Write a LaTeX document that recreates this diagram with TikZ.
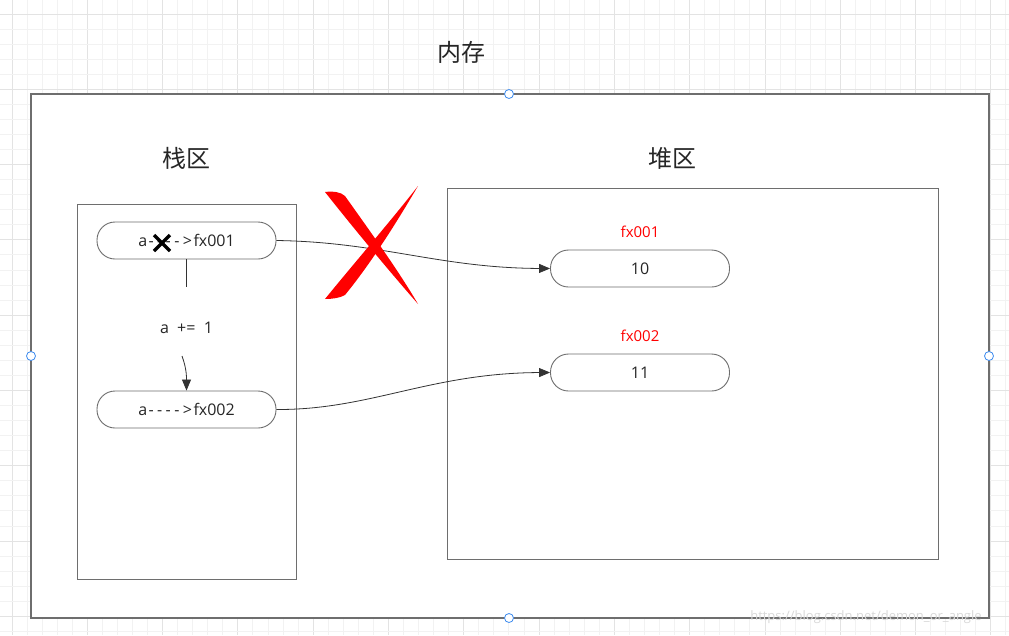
\documentclass[tikz,border=0pt]{standalone}
\usepackage{fontspec}
\setmainfont[Ligatures=TeXOff]{Open Sans}
\newfontfamily\cjk{Noto Sans CJK SC}
\usetikzlibrary{arrows.meta}
\definecolor{gridminor}{HTML}{F2F2F2}
\definecolor{gridmajor}{HTML}{E3E3E3}
\definecolor{edge}{HTML}{6E6E6E}
\definecolor{handle}{HTML}{3D8BEF}
\definecolor{xred}{HTML}{FF0000}
\newcommand{\dsh}{-\kern3.4pt}
\tikzset{
  pill/.style={draw=edge, line width=0.9pt, fill=white, rounded corners=18pt,
    minimum width=179pt, minimum height=37pt, inner sep=0pt, font=\fontsize{16}{18}\selectfont, text=black!85},
  zone/.style={draw=edge, line width=1pt, fill=white},
  title/.style={font=\cjk\fontsize{24}{28}\selectfont, text=black!85},
  addr/.style={font=\fontsize{15}{17}\selectfont, text=xred},
  link/.style={draw=black!80, line width=0.8pt, -{Triangle[length=11pt,width=9pt]}},
  handledot/.style={circle, draw=handle, fill=white, line width=0.8pt, minimum size=9pt, inner sep=0pt}
}
\begin{document}
\begin{tikzpicture}[x=1pt,y=-1pt]
\useasboundingbox (0,0) rectangle (1009,635);
\fill[white] (0,0) rectangle (1009,635);
% grid
\foreach \i in {0,...,66}{
  \pgfmathsetmacro{\gx}{12+\i*15.06}
  \pgfmathtruncatemacro{\m}{mod(\i,5)}
  \ifnum\m=0 \draw[gridmajor,line width=1pt] (\gx,0) -- (\gx,635);
  \else \draw[gridminor,line width=1pt] (\gx,0) -- (\gx,635); \fi
}
\foreach \j in {0,...,41}{
  \pgfmathsetmacro{\gy}{14+\j*15.06}
  \pgfmathtruncatemacro{\m}{mod(\j,5)}
  \ifnum\m=0 \draw[gridmajor,line width=1pt] (0,\gy) -- (1009,\gy);
  \else \draw[gridminor,line width=1pt] (0,\gy) -- (1009,\gy); \fi
}
% outer memory box
\node[title] (mem) at (461,52) {内存};
\draw[zone, line width=1.3pt] (31,94) rectangle (989,618);
\node[handledot] (hn) at (509,94) {};
\node[handledot] (hw) at (31,356) {};
\node[handledot] (he) at (989,356) {};
\node[handledot] (hs) at (509,618) {};
% stack
\node[title] (stk) at (186,158) {栈区};
\draw[zone] (77,204) rectangle (296,579);
% heap
\node[title] (hp) at (672,158) {堆区};
\draw[zone] (447,188) rectangle (938,559);
% stack nodes
\node[pill] (a1) at (186.5,240.5) {a\kern1.5pt\dsh\dsh\dsh\dsh>\kern1.5pt fx001};
\node[pill] (a2) at (186.5,409.5) {a\kern1.5pt\dsh\dsh\dsh\dsh>\kern1.5pt fx002};
\node[font=\fontsize{16}{18}\selectfont, text=black!85] (op) at (186.5,328) {a\ \ +=\ \ 1};
\draw[black!80, line width=0.8pt] (a1.south) -- (186.5,287);
\draw[link] (182,356) to[out=-70,in=90] (a2.north);
% black cross on first pointer
\draw[black, line width=3.2pt] (154,235) -- (170,251) (170,235) -- (154,251);
% heap nodes
\node[pill] (h1) at (640,268.5) {10};
\node[pill] (h2) at (640,372.5) {11};
\node[addr] (l1) at (640,232) {fx001};
\node[addr] (l2) at (640,336) {fx002};
% connectors
\draw[link] (a1.east) .. controls (380,242) and (440,268) .. (h1.west);
\draw[link] (a2.east) .. controls (370,410) and (430,373) .. (h2.west);
% red X
\fill[xred] (325,192) .. controls (333,191) and (341,192) .. (345,196)
  .. controls (372,234) and (398,270) .. (418,304)
  .. controls (390,272) and (355,230) .. cycle;
\fill[xred] (418,186) .. controls (398,220) and (372,262) .. (345,295)
  .. controls (340,298) and (332,299) .. (325,299)
  .. controls (355,262) and (390,222) .. cycle;
% watermark
\node[font=\fontsize{13}{15}\selectfont, text=black!15] (wm) at (866,617) {https://blog.csdn.net/demon\_or\_angle};
\end{tikzpicture}
\end{document}
